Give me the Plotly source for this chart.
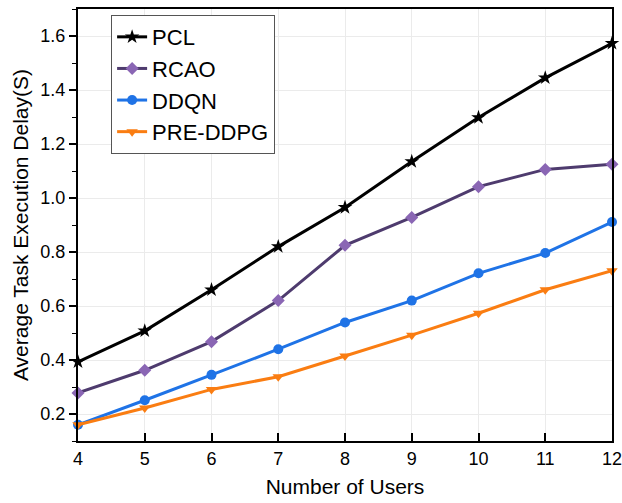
import plotly.graph_objects as go

users = [4, 5, 6, 7, 8, 9, 10, 11, 12]
pcl = [0.393, 0.508, 0.660, 0.820, 0.965, 1.135, 1.298, 1.445, 1.573]
rcao = [0.278, 0.362, 0.468, 0.620, 0.825, 0.928, 1.042, 1.106, 1.125]
ddqn = [0.160, 0.251, 0.345, 0.440, 0.539, 0.620, 0.721, 0.796, 0.911]
pre_ddpg = [0.160, 0.222, 0.291, 0.338, 0.415, 0.492, 0.573, 0.660, 0.731]

series = [
    ("PCL", pcl, "#000000", "#000000", "star"),
    ("RCAO", rcao, "#4E3B6E", "#8A66B4", "diamond"),
    ("DDQN", ddqn, "#1F73E6", "#1F73E6", "circle"),
    ("PRE-DDPG", pre_ddpg, "#FA7D12", "#FA7D12", "triangle-down"),
]

fig = go.Figure()
for name, vals, lc, mc, sym in series:
    fig.add_trace(go.Scatter(
        x=users, y=vals, name=name, mode="lines+markers",
        line=dict(color=lc, width=3),
        marker=dict(symbol=sym, size=10 if sym != "star" else 11, color=mc,
                    line=dict(width=0)),
        cliponaxis=False,
    ))

font = "Liberation Sans, Arial, sans-serif"
fig.update_layout(
    width=622, height=503,
    margin=dict(l=78, r=8, t=9, b=62),
    paper_bgcolor="white", plot_bgcolor="white",
    font=dict(family=font, color="#000000"),
    showlegend=True,
    legend=dict(
        x=0.062, y=0.986, xanchor="left", yanchor="top",
        bgcolor="white", bordercolor="#555555", borderwidth=1,
        font=dict(size=22, family=font),
        tracegroupgap=0,
    ),
    xaxis=dict(
        range=[4, 12], dtick=1, tick0=4,
        showline=True, linecolor="#000000", linewidth=2, mirror=True,
        ticks="inside", ticklen=8, tickwidth=1.5, tickcolor="#000000",
        showgrid=True, gridcolor="#EBEBEB", gridwidth=1,
        zeroline=False, automargin=False,
        ticklabeloverflow="allow",
        tickfont=dict(size=18, family=font),
        title=dict(text="Number of Users", font=dict(size=21, family=font), standoff=12),
    ),
    yaxis=dict(
        range=[0.1, 1.7], dtick=0.2, tick0=0.2, tickformat=".1f",
        showline=True, linecolor="#000000", linewidth=2, mirror=True,
        ticks="outside", ticklen=7, tickwidth=1.5, tickcolor="#000000",
        minor=dict(dtick=0.1, tick0=0.1, ticks="outside", ticklen=4, tickwidth=1.2,
                   tickcolor="#000000", showgrid=False),
        showgrid=True, gridcolor="#EBEBEB", gridwidth=1,
        zeroline=False,
        tickfont=dict(size=18, family=font),
        title=dict(text="Average Task Execution Delay(S)", font=dict(size=21, family=font), standoff=6),
    ),
)

fig.write_html("out.html")
